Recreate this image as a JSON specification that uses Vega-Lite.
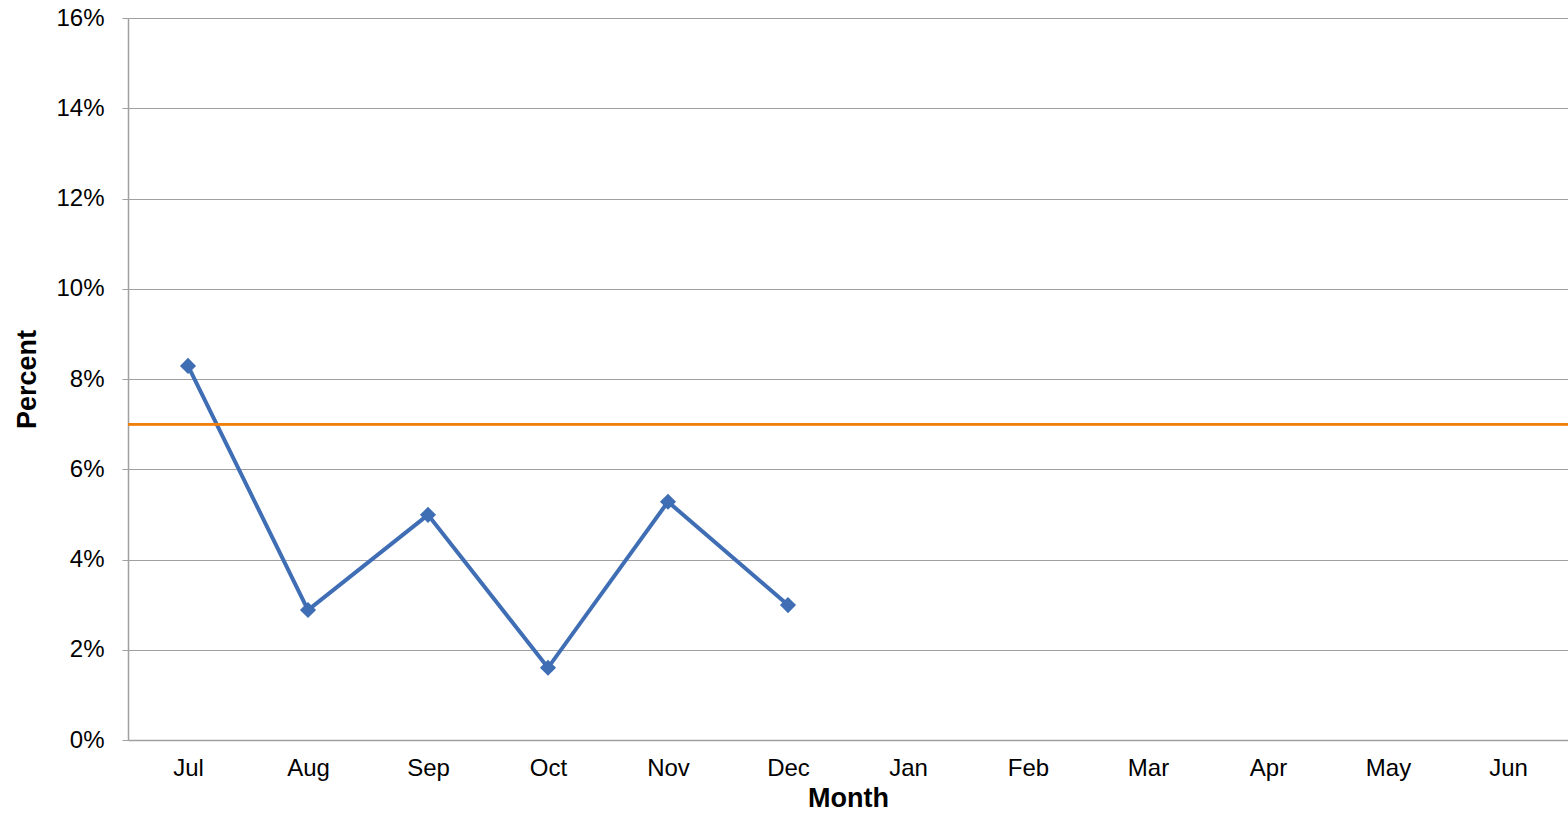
{
  "$schema": "https://vega.github.io/schema/vega-lite/v6.json",
  "autosize": "none",
  "width": 1440,
  "height": 722,
  "padding": {"left": 128, "top": 18, "right": 0, "bottom": 75},
  "background": "white",
  "config": {
    "view": {"stroke": null},
    "font": "Liberation Sans"
  },
  "data": {
    "values": [
      {"month": "Jul", "percent": 0.0829},
      {"month": "Aug", "percent": 0.0288},
      {"month": "Sep", "percent": 0.0499},
      {"month": "Oct", "percent": 0.016},
      {"month": "Nov", "percent": 0.0528},
      {"month": "Dec", "percent": 0.0299},
      {"month": "Jan", "percent": null},
      {"month": "Feb", "percent": null},
      {"month": "Mar", "percent": null},
      {"month": "Apr", "percent": null},
      {"month": "May", "percent": null},
      {"month": "Jun", "percent": null}
    ]
  },
  "encoding": {
    "x": {
      "field": "month",
      "type": "nominal",
      "sort": ["Jul", "Aug", "Sep", "Oct", "Nov", "Dec", "Jan", "Feb", "Mar", "Apr", "May", "Jun"],
      "scale": {"type": "point", "padding": 0.5},
      "axis": {
        "title": "Month",
        "titleFont": "Liberation Sans",
        "titleFontSize": 27,
        "titleFontWeight": "bold",
        "titleColor": "#000000",
        "titlePadding": 5,
        "labelFont": "Liberation Sans",
        "labelFontSize": 24,
        "labelColor": "#000000",
        "labelAngle": 0,
        "labelPadding": 16,
        "ticks": false,
        "grid": false,
        "domainColor": "#a0a0a0",
        "domainWidth": 1.5
      }
    },
    "y": {
      "field": "percent",
      "type": "quantitative",
      "scale": {"domain": [0, 0.16], "nice": false},
      "axis": {
        "title": "Percent",
        "titleFont": "Liberation Sans",
        "titleFontSize": 27,
        "titleFontWeight": "bold",
        "titleColor": "#000000",
        "titlePadding": 14,
        "format": ".0%",
        "values": [0, 0.02, 0.04, 0.06, 0.08, 0.1, 0.12, 0.14, 0.16],
        "labelFont": "Liberation Sans",
        "labelFontSize": 24,
        "labelColor": "#000000",
        "labelPadding": 18,
        "tickSize": 6,
        "tickColor": "#a0a0a0",
        "gridColor": "#a0a0a0",
        "gridWidth": 1.2,
        "domainColor": "#a0a0a0",
        "domainWidth": 1.5
      }
    }
  },
  "layer": [
    {
      "mark": {"type": "line", "color": "#3F6EB5", "strokeWidth": 4}
    },
    {
      "mark": {"type": "point", "shape": "diamond", "filled": true, "color": "#3F6EB5", "size": 260, "opacity": 1}
    },
    {
      "mark": {"type": "rule", "color": "#F07F09", "strokeWidth": 2},
      "encoding": {
        "y": {"datum": 0.07, "type": "quantitative"},
        "x": {"value": 0},
        "x2": {"value": 1440}
      }
    }
  ]
}
